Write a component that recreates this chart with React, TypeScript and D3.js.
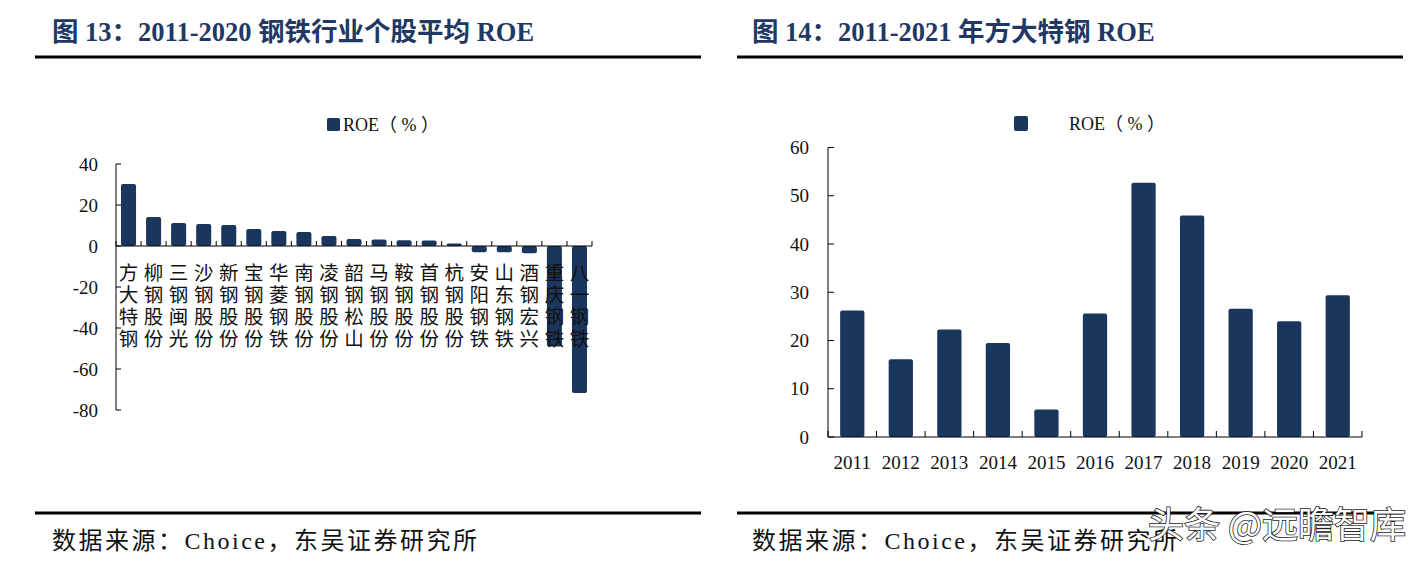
import React from "react";
import * as d3 from "d3";

const stocks = ["方大特钢","柳钢股份","三钢闽光","沙钢股份","新钢股份","宝钢股份","华菱钢铁","南钢股份","凌钢股份","韶钢松山","马钢股份","鞍钢股份","首钢股份","杭钢股份","安阳钢铁","山东钢铁","酒钢宏兴","重庆钢铁","八一钢铁"];
const stockRoe = [30.2,14.1,11.2,10.7,10.2,8.3,7.3,6.8,4.9,3.4,3.2,2.8,2.7,1.2,-3.0,-3.0,-3.5,-49,-71.7];
const leftTicks = [40,20,0,-20,-40,-60,-80];

const years = ["2011","2012","2013","2014","2015","2016","2017","2018","2019","2020","2021"];
const yearRoe = [26.2,16.1,22.3,19.5,5.7,25.6,52.7,45.9,26.6,24.0,29.4];
const rightTicks = [0,10,20,30,40,50,60];

const BAR = "#1b365d";
const NAVY = "#1f3864";
const SERIF = "'Liberation Serif','Times New Roman','Noto Sans CJK SC',serif";
const CJK = "'Noto Sans CJK SC',sans-serif";

function LeftChart() {
  const x = d3.scaleBand<string>().domain(stocks).range([116, 592]).paddingInner(0.4).paddingOuter(0.2);
  const y = d3.scaleLinear().domain([-80, 40]).range([410, 164]);
  const step = x.step();
  const x0 = 116;
  return (
    <g>
      {stocks.map((s, i) => {
        const v = stockRoe[i];
        const top = y(Math.max(0, v));
        const h = Math.abs(y(v) - y(0));
        return <rect key={s} x={x(s)} y={top} width={x.bandwidth()} height={h} rx={2} fill={BAR} />;
      })}
      <line x1={x0} x2={x0} y1={y(40)} y2={y(-80)} stroke="#000" strokeWidth={1} />
      {leftTicks.map(t => (
        <g key={t}>
          <line x1={x0} x2={x0 + 5} y1={y(t)} y2={y(t)} stroke="#000" />
          <text x={98} y={y(t)} dy="0.35em" textAnchor="end" fontFamily={SERIF} fontSize={19} fill="#111">{t}</text>
        </g>
      ))}
      <line x1={x0} x2={592} y1={y(0)} y2={y(0)} stroke="#000" />
      {d3.range(stocks.length + 1).map(i => (
        <line key={i} x1={x0 + i * step} x2={x0 + i * step} y1={y(0)} y2={y(0) - 5} stroke="#000" />
      ))}
      {stocks.map(s => (
        <text key={s} fontFamily={CJK} fontSize={19.5} fill="#111" textAnchor="middle">
          {s.split("").map((c, j) => (
            <tspan key={j} x={(x(s) as number) + x.bandwidth() / 2} y={280 + j * 22}>{c}</tspan>
          ))}
        </text>
      ))}
      <rect x={327} y={118} width={13} height={13} rx={1.5} fill={BAR} />
      <text x={343} y={131} fontFamily={SERIF} fontSize={18} fill="#111">ROE（ % ）</text>
    </g>
  );
}

function RightChart() {
  const x = d3.scaleBand<string>().domain(years).range([828, 1362]).paddingInner(0.5).paddingOuter(0.25);
  const y = d3.scaleLinear().domain([0, 60]).range([437, 147.5]);
  const step = x.step();
  const x0 = 828;
  return (
    <g>
      {years.map((yr, i) => (
        <rect key={yr} x={x(yr)} y={y(yearRoe[i])} width={x.bandwidth()} height={y(0) - y(yearRoe[i])} rx={2} fill={BAR} />
      ))}
      <line x1={x0} x2={x0} y1={y(60)} y2={y(0)} stroke="#000" />
      {rightTicks.map(t => (
        <g key={t}>
          <line x1={x0} x2={x0 + 6} y1={y(t)} y2={y(t)} stroke="#000" />
          <text x={809} y={y(t)} dy="0.35em" textAnchor="end" fontFamily={SERIF} fontSize={19} fill="#111">{t}</text>
        </g>
      ))}
      <line x1={x0} x2={1362} y1={y(0)} y2={y(0)} stroke="#000" />
      {d3.range(years.length + 1).map(i => (
        <line key={i} x1={x0 + i * step} x2={x0 + i * step} y1={y(0)} y2={y(0) - 6} stroke="#000" />
      ))}
      {years.map(yr => (
        <text key={yr} x={(x(yr) as number) + x.bandwidth() / 2} y={469} textAnchor="middle" fontFamily={SERIF} fontSize={19} fill="#111">{yr}</text>
      ))}
      <rect x={1014} y={116} width={14} height={15} rx={2} fill={BAR} />
      <text x={1069} y={130} fontFamily={SERIF} fontSize={18} fill="#111">ROE（ % ）</text>
    </g>
  );
}

export default function App() {
  return (
    <svg width={1427} height={563} style={{ position: "absolute", left: 0, top: 0, background: "#fff" }}>
      <rect width={1427} height={563} fill="#fff" />
      <text x={52} y={41} fontFamily={SERIF} fontWeight="bold" fontSize={26.5} fill={NAVY}>图 13：2011-2020 钢铁行业个股平均 ROE</text>
      <text x={752} y={41} fontFamily={SERIF} fontWeight="bold" fontSize={26.5} fill={NAVY}>图 14：2011-2021 年方大特钢 ROE</text>
      <line x1={35} x2={701} y1={57} y2={57} stroke="#000" strokeWidth={3} />
      <line x1={737} x2={1403} y1={57} y2={57} stroke="#000" strokeWidth={3} />
      <LeftChart />
      <RightChart />
      <line x1={35} x2={701} y1={513} y2={513} stroke="#000" strokeWidth={3} />
      <line x1={737} x2={1403} y1={513} y2={513} stroke="#000" strokeWidth={3} />
      <text x={52} y={549} fontFamily={SERIF} fontSize={24} letterSpacing={2.5} fill="#111">数据来源：Choice，东吴证券研究所</text>
      <text x={752} y={549} fontFamily={SERIF} fontSize={24} letterSpacing={2.5} fill="#111">数据来源：Choice，东吴证券研究所</text>
      <text x={1148} y={538} fontFamily={CJK} fontSize={36} fill="#fff" stroke="#222" strokeWidth={1.6} paintOrder="stroke">头条 @远瞻智库</text>
    </svg>
  );
}
